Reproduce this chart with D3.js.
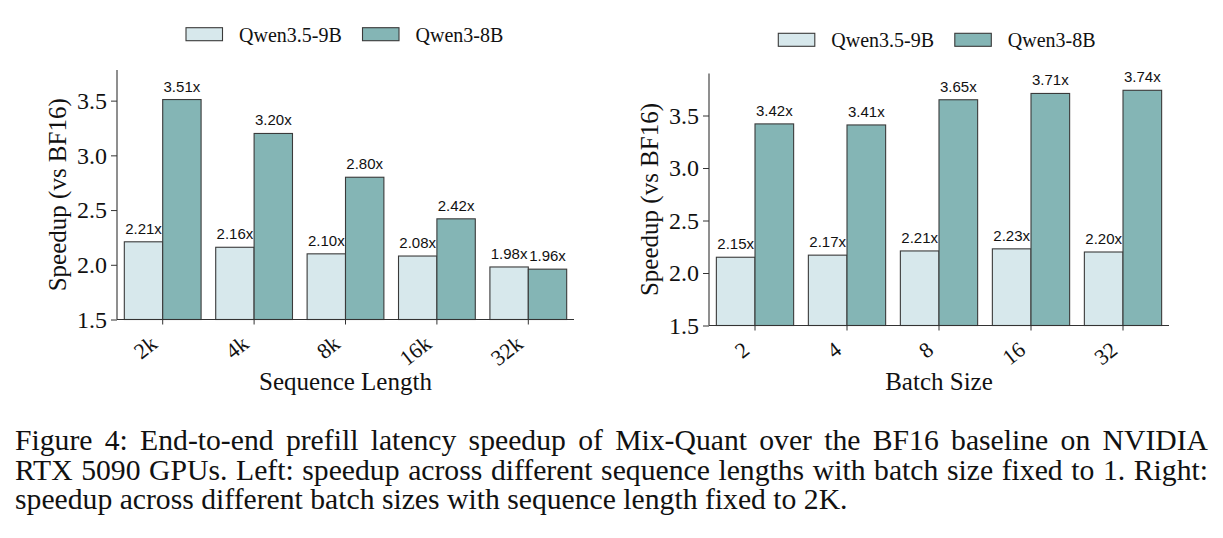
<!DOCTYPE html>
<html>
<head>
<meta charset="utf-8">
<script src="https://cdn.jsdelivr.net/npm/d3@7"></script>
<style>
  body { margin: 0; background: #fff; }
  svg { display: block; }
</style>
</head>
<body>
<div class="canvas"></div>
<script>
// data
const seriesNames = ['Qwen3.5-9B', 'Qwen3-8B'];

const seqLabels = ['2k', '4k', '8k', '16k', '32k'];
const seqQwen35 = [2.21, 2.16, 2.10, 2.08, 1.98];
const seqQwen3 = [3.51, 3.20, 2.80, 2.42, 1.96];

const batchLabels = ['2', '4', '8', '16', '32'];
const batchQwen35 = [2.15, 2.17, 2.21, 2.23, 2.20];
const batchQwen3 = [3.42, 3.41, 3.65, 3.71, 3.74];

const yTicks = [1.5, 2.0, 2.5, 3.0, 3.5];

const captionLines = [
  'Figure 4: End-to-end prefill latency speedup of Mix-Quant over the BF16 baseline on NVIDIA',
  'RTX 5090 GPUs. Left: speedup across different sequence lengths with batch size fixed to 1. Right:',
  'speedup across different batch sizes with sequence length fixed to 2K.'
];

const colors = ['#d7e8ec', '#84b5b5'];
const serif = "'Liberation Serif', Tinos, 'Nimbus Roman', 'DejaVu Serif', serif";
const sans = "'Liberation Sans', Arimo, Arial, sans-serif";

const svg = d3.select('.canvas')
  .append('svg')
    .attr('width', 1223)
    .attr('height', 538);

svg.append('rect')
  .attr('width', 1223)
  .attr('height', 538)
  .attr('fill', '#fff');

// draw one panel
const drawPanel = (opts) => {
  const { labels, values, left, right, top, bottom, yMax, xTitle, legendX, legendY } = opts;

  const x = d3.scaleBand()
    .domain(labels)
    .range([left, right])
    .paddingInner(0.16)
    .paddingOuter(0.08);

  const xs = d3.scaleBand()
    .domain(seriesNames)
    .range([0, x.bandwidth()]);

  const y = d3.scaleLinear()
    .domain([1.5, yMax])
    .range([bottom, top]);

  const g = svg.append('g');

  const rows = labels.map((l, i) => ({ label: l, vals: values.map(v => v[i]) }));

  const groups = g.selectAll('g.grp')
    .data(rows)
    .enter()
    .append('g')
      .attr('transform', d => `translate(${x(d.label)}, 0)`);

  groups.selectAll('rect')
    .data(d => d.vals.map((v, k) => ({ v, name: seriesNames[k], k })))
    .enter()
    .append('rect')
      .attr('x', d => xs(d.name))
      .attr('y', d => y(d.v))
      .attr('width', xs.bandwidth())
      .attr('height', d => bottom - y(d.v))
      .attr('fill', d => colors[d.k])
      .attr('stroke', '#3a3a3a')
      .attr('stroke-width', 1.1);

  groups.selectAll('text')
    .data(d => d.vals.map((v, k) => ({ v, name: seriesNames[k] })))
    .enter()
    .append('text')
      .attr('x', d => xs(d.name) + xs.bandwidth() / 2)
      .attr('y', d => y(d.v) - 8)
      .attr('text-anchor', 'middle')
      .style('font-family', sans)
      .attr('font-size', 15)
      .attr('fill', '#111')
      .text(d => d.v.toFixed(2) + 'x');

  // axes
  const yAxis = d3.axisLeft(y)
    .tickValues(yTicks)
    .tickFormat(d3.format('.1f'))
    .tickSize(6)
    .tickPadding(4);

  const yAxisGroup = g.append('g')
    .attr('transform', `translate(${left}, 0)`)
    .call(yAxis);
  yAxisGroup.select('.domain')
    .attr('d', `M0,${top}V${bottom}`);

  const xAxis = d3.axisBottom(x)
    .tickSize(5)
    .tickFormat('');

  const xAxisGroup = g.append('g')
    .attr('transform', `translate(0, ${bottom})`)
    .call(xAxis);
  xAxisGroup.select('.domain')
    .attr('d', `M${left},0H${right}`);

  [yAxisGroup, xAxisGroup].forEach(ax => {
    ax.select('.domain').attr('stroke', '#333').attr('stroke-width', 1.1);
    ax.selectAll('.tick line').attr('stroke', '#333').attr('stroke-width', 1);
  });

  yAxisGroup.selectAll('text')
    .style('font-family', serif)
    .attr('font-size', 24)
    .attr('fill', '#111');

  // rotated category labels
  g.selectAll('text.xlab')
    .data(labels)
    .enter()
    .append('text')
      .attr('class', 'xlab')
      .attr('transform', d => `translate(${x(d) + x.bandwidth() / 2 - 4}, ${bottom + 27}) rotate(-38)`)
      .attr('text-anchor', 'end')
      .style('font-family', serif)
      .attr('font-size', 22)
      .attr('fill', '#111')
      .text(d => d);

  // axis titles
  g.append('text')
    .attr('transform', `translate(${left - 51}, ${(top + bottom) / 2}) rotate(-90)`)
    .attr('text-anchor', 'middle')
    .style('font-family', serif)
    .attr('font-size', 25)
    .attr('fill', '#111')
    .text('Speedup (vs BF16)');

  g.append('text')
    .attr('x', (left + right) / 2)
    .attr('y', 390)
    .attr('text-anchor', 'middle')
    .style('font-family', serif)
    .attr('font-size', 25)
    .attr('fill', '#111')
    .text(xTitle);

  // legend
  const legend = g.append('g')
    .attr('transform', `translate(${legendX}, ${legendY})`);
  const offsets = [0, 176.5];
  seriesNames.forEach((name, k) => {
    legend.append('rect')
      .attr('x', offsets[k])
      .attr('y', 0)
      .attr('width', 36.5)
      .attr('height', 13)
      .attr('fill', colors[k])
      .attr('stroke', '#3a3a3a')
      .attr('stroke-width', 1.1);
    legend.append('text')
      .attr('x', offsets[k] + 53)
      .attr('y', 14)
      .style('font-family', serif)
      .attr('font-size', 20)
      .attr('fill', '#111')
      .text(name);
  });
};

drawPanel({
  labels: seqLabels,
  values: [seqQwen35, seqQwen3],
  left: 117, right: 574, top: 70, bottom: 319.5, yMax: 3.78,
  xTitle: 'Sequence Length',
  legendX: 186, legendY: 27.7
});

drawPanel({
  labels: batchLabels,
  values: [batchQwen35, batchQwen3],
  left: 709, right: 1169, top: 73.5, bottom: 325.5, yMax: 3.90,
  xTitle: 'Batch Size',
  legendX: 778.3, legendY: 33.3
});

// caption: font size picked so the last line ends where the reference one
// does, first two lines justified to the full width
const capLeft = 15, capRight = 1208, lastLineEnd = 848;
const baselines = [450, 479.5, 509];
const capTexts = captionLines.map((line, i) => svg.append('text')
  .attr('x', capLeft)
  .attr('y', baselines[i])
  .style('font-family', serif)
  .attr('font-size', 24)
  .attr('fill', '#111')
  .text(line));

const capSize = 24 * (lastLineEnd - capLeft) / capTexts[2].node().getComputedTextLength();
capTexts.forEach((t, i) => {
  t.attr('font-size', capSize);
  if (i < captionLines.length - 1) {
    const len = t.node().getComputedTextLength();
    const spaces = captionLines[i].split(' ').length - 1;
    t.style('word-spacing', ((capRight - capLeft - len) / spaces) + 'px');
  }
});
</script>
</body>
</html>
